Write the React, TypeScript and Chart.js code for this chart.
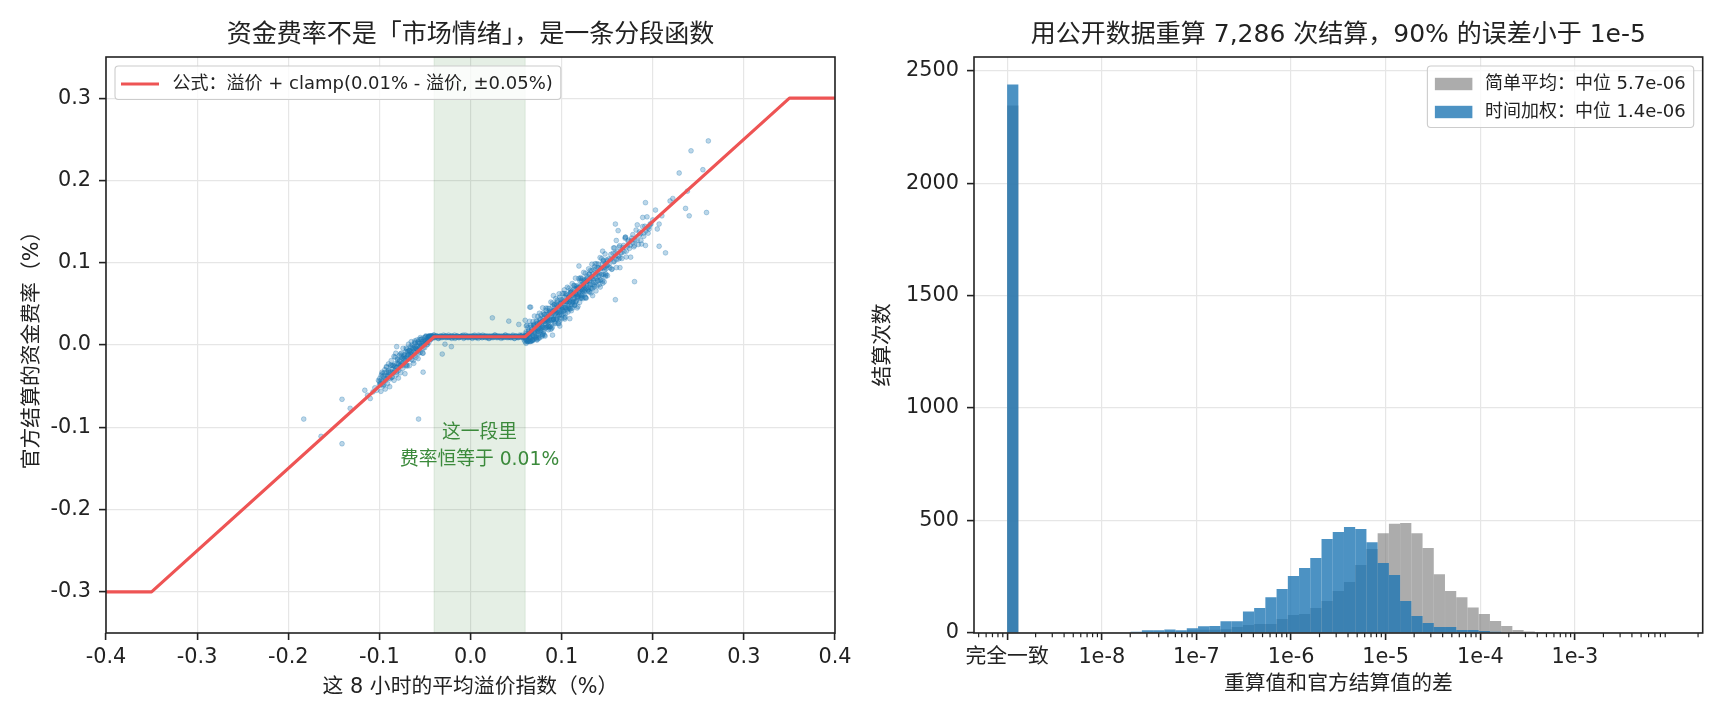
import React, { useEffect, useRef } from "react";
import { Chart, registerables } from "chart.js";

Chart.register(...registerables);

const FONT = '"DejaVu Sans", "Noto Sans CJK SC", sans-serif';
const INK = "#222222";
const GRID = "#e6e6e6";

// ---------------- left panel data ----------------
const leftTitle = "资金费率不是「市场情绪」，是一条分段函数";
const leftXLabel = "这 8 小时的平均溢价指数（%）";
const leftYLabel = "官方结算的资金费率（%）";
const leftXTicks = [-0.4, -0.3, -0.2, -0.1, 0, 0.1, 0.2, 0.3, 0.4];
const leftXTickLabels = ["-0.4", "-0.3", "-0.2", "-0.1", "0.0", "0.1", "0.2", "0.3", "0.4"];
const leftYTicks = [-0.3, -0.2, -0.1, 0, 0.1, 0.2, 0.3];
const leftYTickLabels = ["-0.3", "-0.2", "-0.1", "0.0", "0.1", "0.2", "0.3"];
const formulaPremium = [-0.4, -0.35, -0.04, 0.06, 0.35, 0.4];
const formulaRate = [-0.3, -0.3, 0.01, 0.01, 0.3, 0.3];
const formulaLabel = "公式：溢价 + clamp(0.01% - 溢价, ±0.05%)";
const flatBand = [-0.04, 0.06];
const flatNote = ["这一段里", "费率恒等于 0.01%"];

const negSlopePoints = [
  [-0.105,-0.052],[-0.103,-0.055],[-0.101,-0.043],[-0.100,-0.049],[-0.098,-0.043],[-0.097,-0.035],[-0.095,-0.048],[-0.094,-0.037],
  [-0.093,-0.041],[-0.092,-0.027],[-0.091,-0.037],[-0.090,-0.031],[-0.089,-0.040],[-0.088,-0.032],[-0.087,-0.019],[-0.086,-0.033],
  [-0.085,-0.025],[-0.084,-0.033],[-0.083,-0.026],[-0.082,-0.010],[-0.081,-0.027],[-0.081,-0.002],[-0.080,-0.018],[-0.079,-0.031],
  [-0.078,-0.020],[-0.077,-0.011],[-0.076,-0.023],[-0.075,-0.016],[-0.074,-0.004],[-0.073,-0.022],[-0.072,-0.016],[-0.071,-0.008],
  [-0.070,-0.024],[-0.069,-0.014],[-0.068,0.001],[-0.067,-0.007],[-0.066,-0.014],[-0.065,-0.008],[-0.064,0.000],[-0.063,-0.019],
  [-0.062,-0.008],[-0.061,-0.002],[-0.060,-0.009],[-0.059,0.006],[-0.058,-0.002],[-0.057,-0.010],[-0.056,0.002],[-0.055,-0.002],
  [-0.054,0.007],[-0.053,0.002],[-0.052,-0.010],[-0.051,0.006],[-0.050,0.002],[-0.049,0.010],[-0.048,0.006],[-0.047,0.001],
  [-0.046,0.010],[-0.045,0.008],[-0.044,0.011],[-0.043,0.008],[-0.042,0.011],[-0.041,0.009],
  [-0.099,-0.047],[-0.096,-0.044],[-0.090,-0.038],[-0.086,-0.039],[-0.083,-0.031],[-0.080,-0.027],[-0.077,-0.025],[-0.075,-0.022],
  [-0.073,-0.017],[-0.070,-0.015],[-0.068,-0.012],[-0.066,-0.009],[-0.064,-0.010],[-0.062,-0.005],[-0.060,-0.004],[-0.058,-0.006],
  [-0.056,-0.004],[-0.054,-0.001],[-0.052,0.000],[-0.050,0.004],[-0.048,0.003],[-0.046,0.006],[-0.044,0.007],[-0.057,0.004],
  [-0.061,0.003],[-0.065,-0.003],[-0.069,-0.008],[-0.072,-0.012],
  [-0.100,-0.044],[-0.099,-0.047],[-0.098,-0.037],[-0.097,-0.048],[-0.096,-0.038],[-0.095,-0.041],[-0.094,-0.030],[-0.093,-0.043],
  [-0.092,-0.033],[-0.091,-0.038],[-0.090,-0.023],[-0.089,-0.034],[-0.088,-0.041],[-0.087,-0.025],[-0.086,-0.029],[-0.085,-0.034],
  [-0.084,-0.014],[-0.083,-0.023],[-0.082,-0.028],[-0.081,-0.033],[-0.080,-0.017],[-0.079,-0.023],[-0.078,-0.019],[-0.077,-0.025],
  [-0.076,-0.010],[-0.075,-0.025],[-0.074,-0.016],[-0.073,-0.012],[-0.072,-0.019],[-0.071,-0.025],[-0.070,-0.005],[-0.069,-0.012],
  [-0.068,-0.017],[-0.067,-0.007],[-0.066,-0.011],[-0.065,0.004],[-0.064,-0.012],[-0.063,-0.004],[-0.062,-0.013],[-0.061,0.002],
  [-0.060,-0.004],[-0.059,-0.005],[-0.058,0.003],[-0.057,-0.007],[-0.056,0.002],[-0.055,0.009],[-0.054,-0.001],[-0.053,0.004],
  [-0.052,-0.004],[-0.051,0.009],[-0.050,0.005],[-0.049,0.011],[-0.048,0.003],[-0.047,0.009],[-0.046,0.011],[-0.045,0.008],
  [-0.044,0.010],[-0.043,0.009],[-0.042,0.010],[-0.041,0.010],
  [-0.0995,-0.0405],[-0.0983,-0.0563],[-0.0971,-0.0331],[-0.0959,-0.0499],[-0.0947,-0.0337],[-0.0935,-0.0535],[-0.0923,-0.0263],[-0.0911,-0.0471],
  [-0.0899,-0.0329],[-0.0887,-0.0507],[-0.0875,-0.0245],[-0.0863,-0.0393],[-0.0851,-0.0251],[-0.0839,-0.0429],[-0.0827,-0.0147],[-0.0815,-0.0365],
  [-0.0803,-0.0223],[-0.0791,-0.0401],[-0.0779,-0.0129],[-0.0767,-0.0337],[-0.0755,-0.0135],[-0.0743,-0.0283],[-0.0731,-0.0141],[-0.0719,-0.0349],
  [-0.0707,-0.0037],[-0.0695,-0.0255],[-0.0683,-0.0073],[-0.0671,-0.0251],[-0.0659,-0.0019],[-0.0647,-0.0177],[-0.0635,-0.0035],[-0.0623,-0.0223],
  [-0.0611,0.0049],[-0.0599,-0.0149],[-0.0587,-0.0007],[-0.0575,-0.0165],[-0.0563,0.0067],[-0.0551,-0.0091],[-0.0539,0.0071],[-0.0527,-0.0097],
  [-0.0515,0.0045],[-0.0503,-0.0033],[-0.0491,0.0099],[-0.0479,0.0001],[-0.0467,0.0083],[-0.0455,0.0035],[-0.0443,0.0097],[-0.0431,0.0069],
];

const flatPoints = [
  [-0.046,0.010],[-0.045,0.009],[-0.044,0.010],[-0.043,0.011],[-0.042,0.010],[-0.041,0.010],[-0.040,0.012],[-0.039,0.009],
  [-0.038,0.010],[-0.037,0.011],[-0.036,0.010],[-0.035,0.008],[-0.034,0.010],[-0.033,0.010],[-0.032,0.011],[-0.031,0.009],
  [-0.030,0.010],[-0.029,0.010],[-0.028,0.011],[-0.027,0.010],[-0.026,0.009],[-0.025,0.010],[-0.024,0.012],[-0.023,0.010],
  [-0.022,0.010],[-0.021,0.009],[-0.020,0.011],[-0.019,0.010],[-0.018,0.010],[-0.017,0.008],[-0.016,0.010],[-0.015,0.011],
  [-0.014,0.010],[-0.013,0.009],[-0.012,0.010],[-0.011,0.010],[-0.010,0.011],[-0.009,0.010],[-0.008,0.012],[-0.007,0.009],
  [-0.006,0.010],[-0.005,0.010],[-0.004,0.011],[-0.003,0.010],[-0.002,0.009],[-0.001,0.010],[0.000,0.010],[0.001,0.011],
  [0.002,0.008],[0.003,0.010],[0.004,0.010],[0.005,0.011],[0.006,0.010],[0.007,0.009],[0.008,0.010],[0.009,0.012],
  [0.010,0.010],[0.011,0.010],[0.012,0.011],[0.013,0.009],[0.014,0.010],[0.015,0.010],[0.016,0.010],[0.017,0.011],
  [0.018,0.009],[0.019,0.010],[0.020,0.008],[0.021,0.010],[0.022,0.011],[0.023,0.010],[0.024,0.010],[0.025,0.009],
  [0.026,0.010],[0.027,0.012],[0.028,0.010],[0.029,0.011],[0.030,0.009],[0.031,0.010],[0.032,0.010],[0.033,0.011],
  [0.034,0.010],[0.035,0.009],[0.036,0.010],[0.037,0.010],[0.038,0.012],[0.039,0.010],[0.040,0.009],[0.041,0.011],
  [0.042,0.010],[0.043,0.010],[0.044,0.009],[0.045,0.010],[0.046,0.011],[0.047,0.010],[0.048,0.008],[0.049,0.010],
  [0.050,0.011],[0.051,0.010],[0.052,0.009],[0.053,0.010],[0.054,0.012],[0.055,0.010],[0.056,0.011],[0.057,0.009],
  [0.058,0.010],[0.059,0.010],[0.060,0.011],[0.061,0.010],[0.062,0.009],
  [-0.0455,0.010],[-0.0445,0.011],[-0.0435,0.009],[-0.0425,0.010],[-0.0415,0.010],[-0.0405,0.012],[-0.0395,0.009],[-0.0385,0.010],
  [-0.0375,0.011],[-0.0365,0.010],[-0.0355,0.008],[-0.0345,0.010],[-0.0335,0.011],[-0.0325,0.009],[-0.0315,0.010],[-0.0305,0.010],
  [-0.0295,0.012],[-0.0285,0.010],[-0.0275,0.009],[-0.0265,0.011],[-0.0255,0.010],[-0.0245,0.010],[-0.0235,0.009],[-0.0225,0.010],
  [-0.0215,0.011],[-0.0205,0.008],[-0.0195,0.010],[-0.0185,0.010],[-0.0175,0.012],[-0.0165,0.009],[-0.0155,0.010],[-0.0145,0.011],
  [-0.0135,0.010],[-0.0125,0.009],[-0.0115,0.010],[-0.0105,0.010],[-0.0095,0.011],[-0.0085,0.010],[-0.0075,0.008],[-0.0065,0.010],
  [-0.0055,0.012],[-0.0045,0.010],[-0.0035,0.009],[-0.0025,0.010],[-0.0015,0.011],[-0.0005,0.010],[0.0005,0.010],[0.0015,0.009],
  [0.0025,0.011],[0.0035,0.010],[0.0045,0.012],[0.0055,0.009],[0.0065,0.010],[0.0075,0.010],[0.0085,0.008],[0.0095,0.011],
  [0.0105,0.010],[0.0115,0.010],[0.0125,0.009],[0.0135,0.012],[0.0145,0.010],[0.0155,0.011],[0.0165,0.009],[0.0175,0.010],
  [0.0185,0.010],[0.0195,0.011],[0.0205,0.008],[0.0215,0.010],[0.0225,0.010],[0.0235,0.009],[0.0245,0.011],[0.0255,0.010],
  [0.0265,0.012],[0.0275,0.010],[0.0285,0.009],[0.0295,0.010],[0.0305,0.011],[0.0315,0.010],[0.0325,0.010],[0.0335,0.008],
  [0.0345,0.010],[0.0355,0.011],[0.0365,0.009],[0.0375,0.010],[0.0385,0.012],[0.0395,0.010],[0.0405,0.010],[0.0415,0.009],
  [0.0425,0.011],[0.0435,0.010],[0.0445,0.009],[0.0455,0.010],[0.0465,0.012],[0.0475,0.010],[0.0485,0.008],[0.0495,0.011],
  [0.0505,0.010],[0.0515,0.010],[0.0525,0.009],[0.0535,0.010],[0.0545,0.011],[0.0555,0.010],[0.0565,0.012],[0.0575,0.009],
  [0.0585,0.010],[0.0595,0.010],[0.0605,0.011],[0.0615,0.009],[0.0625,0.010],
];

const posSlopePoints = [
  [0.058,0.010],[0.059,0.006],[0.060,0.004],[0.061,0.016],[0.062,0.011],[0.063,0.005],[0.064,0.014],[0.065,0.009],
  [0.066,0.024],[0.067,0.014],[0.068,0.006],[0.069,0.011],[0.070,0.023],[0.071,0.010],[0.072,0.020],[0.073,0.029],
  [0.074,0.017],[0.075,0.011],[0.076,0.027],[0.077,0.022],[0.078,0.018],[0.079,0.033],[0.080,0.029],[0.081,0.012],
  [0.082,0.026],[0.083,0.042],[0.084,0.031],[0.085,0.023],[0.086,0.028],[0.087,0.039],[0.088,0.023],[0.089,0.035],
  [0.090,0.047],[0.091,0.032],[0.092,0.042],[0.093,0.026],[0.094,0.039],[0.095,0.048],[0.096,0.035],[0.097,0.040],
  [0.098,0.058],[0.099,0.047],[0.100,0.036],[0.101,0.045],[0.102,0.053],[0.103,0.033],[0.104,0.045],[0.105,0.060],
  [0.106,0.053],[0.107,0.045],[0.108,0.058],[0.109,0.052],[0.110,0.044],[0.111,0.065],[0.112,0.052],[0.113,0.062],
  [0.114,0.072],[0.115,0.052],[0.116,0.061],[0.117,0.045],[0.118,0.070],[0.119,0.061],[0.120,0.067],[0.121,0.082],
  [0.122,0.057],[0.123,0.067],[0.124,0.074],[0.125,0.065],[0.126,0.058],[0.127,0.080],[0.128,0.074],[0.129,0.067],
  [0.130,0.086],[0.131,0.073],[0.132,0.081],[0.133,0.069],[0.134,0.060],[0.135,0.080],[0.136,0.095],[0.137,0.076],
  [0.138,0.086],[0.139,0.072],[0.140,0.094],[0.141,0.084],[0.142,0.079],[0.143,0.093],[0.144,0.085],[0.145,0.075],
  [0.146,0.103],[0.147,0.094],[0.148,0.083],[0.149,0.093],[0.150,0.102],
  [0.061,0.002],[0.062,0.024],[0.064,0.006],[0.065,0.004],[0.067,0.016],[0.068,0.005],[0.070,0.025],[0.071,0.017],
  [0.073,0.006],[0.074,0.014],[0.076,0.027],[0.077,0.020],[0.079,0.013],[0.080,0.039],[0.082,0.030],[0.083,0.021],
  [0.085,0.029],[0.086,0.039],[0.088,0.019],[0.089,0.030],[0.091,0.041],[0.092,0.028],[0.094,0.050],[0.095,0.040],
  [0.097,0.026],[0.098,0.037],[0.100,0.052],[0.101,0.043],[0.103,0.067],[0.104,0.038],[0.106,0.053],[0.107,0.047],
  [0.109,0.032],[0.110,0.064],[0.112,0.049],[0.113,0.056],[0.115,0.063],[0.116,0.071],[0.118,0.059],[0.119,0.065],
  [0.121,0.072],[0.122,0.060],[0.124,0.068],[0.125,0.078],[0.127,0.069],[0.128,0.078],[0.130,0.065],[0.131,0.078],
  [0.133,0.090],[0.134,0.074],
  [0.0600,0.0080],[0.0608,0.0138],[0.0616,0.0056],[0.0624,0.0124],[0.0632,0.0042],[0.0640,0.0180],[0.0648,0.0108],[0.0656,0.0146],
  [0.0664,0.0044],[0.0672,0.0192],[0.0680,0.0110],[0.0688,0.0238],[0.0696,0.0166],[0.0704,0.0104],[0.0712,0.0222],[0.0720,0.0170],
  [0.0728,0.0088],[0.0736,0.0266],[0.0744,0.0164],[0.0752,0.0232],[0.0760,0.0320],[0.0768,0.0158],[0.0776,0.0236],[0.0784,0.0284],
  [0.0792,0.0222],[0.0800,0.0140],[0.0808,0.0328],[0.0816,0.0286],[0.0824,0.0234],[0.0832,0.0372],[0.0840,0.0280],[0.0848,0.0338],
  [0.0856,0.0226],[0.0864,0.0414],[0.0872,0.0292],[0.0880,0.0380],[0.0888,0.0348],[0.0896,0.0216],[0.0904,0.0414],[0.0912,0.0312],
  [0.0920,0.0450],[0.0928,0.0378],[0.0936,0.0416],[0.0944,0.0324],[0.0952,0.0522],[0.0960,0.0390],[0.0968,0.0458],[0.0976,0.0326],
  [0.0984,0.0504],[0.0992,0.0402],[0.1000,0.0470],[0.1008,0.0548],[0.1016,0.0456],[0.1024,0.0414],[0.1032,0.0532],[0.1040,0.0340],
  [0.1048,0.0508],[0.1056,0.0616],[0.1064,0.0484],[0.1072,0.0552],[0.1080,0.0450],[0.1088,0.0598],[0.1096,0.0546],[0.1104,0.0634],
  [0.1112,0.0512],[0.1120,0.0450],[0.1128,0.0618],[0.1136,0.0686],[0.1144,0.0574],[0.1152,0.0622],[0.1160,0.0540],[0.1168,0.0688],
  [0.1176,0.0586],[0.1184,0.0684],[0.1192,0.0632],[0.1200,0.0780],[0.1208,0.0568],[0.1216,0.0676],[0.1224,0.0734],[0.1232,0.0622],
  [0.1240,0.0720],[0.1248,0.0788],[0.1256,0.0676],[0.1264,0.0574],[0.1272,0.0722],[0.1280,0.0810],[0.1288,0.0778],[0.1296,0.0696],
  [0.1304,0.0864],[0.1312,0.0752],[0.1320,0.0690],[0.1328,0.0828],[0.1336,0.0806],[0.1344,0.0864],[0.1352,0.0762],[0.1360,0.0710],
  [0.1368,0.0828],[0.1376,0.0926],[0.1384,0.0814],[0.1392,0.0882],[0.1400,0.0780],[0.1408,0.0938],[0.1416,0.0866],[0.1424,0.0704],
  [0.1432,0.0932],[0.1440,0.0860],[0.1448,0.0988],[0.1456,0.0936],[0.1464,0.0854],[0.1472,0.0912],[0.1480,0.0990],[0.1488,0.0848],
  [0.1496,0.0966],
  [0.0604,0.0114],[0.0615,0.0065],[0.0626,0.0050],[0.0637,0.0167],[0.0648,0.0118],[0.0659,0.0079],[0.0670,0.0170],[0.0681,0.0060],
  [0.0692,0.0242],[0.0703,0.0143],[0.0714,0.0194],[0.0725,0.0115],[0.0736,0.0256],[0.0747,0.0207],[0.0758,0.0088],[0.0769,0.0309],
  [0.0780,0.0210],[0.0791,0.0281],[0.0802,0.0212],[0.0813,0.0373],[0.0824,0.0204],[0.0835,0.0305],[0.0846,0.0346],[0.0857,0.0297],
  [0.0868,0.0218],[0.0879,0.0409],[0.0890,0.0310],[0.0901,0.0381],[0.0912,0.0312],[0.0923,0.0493],[0.0934,0.0384],[0.0945,0.0315],
  [0.0956,0.0466],[0.0967,0.0427],[0.0978,0.0288],[0.0989,0.0509],[0.1000,0.0430],[0.1011,0.0501],[0.1022,0.0412],[0.1033,0.0583],
  [0.1044,0.0454],[0.1055,0.0525],[0.1066,0.0426],[0.1077,0.0577],[0.1088,0.0528],[0.1099,0.0639],[0.1110,0.0490],[0.1121,0.0601],
  [0.1132,0.0552],[0.1143,0.0483],[0.1154,0.0684],[0.1165,0.0615],[0.1176,0.0576],[0.1187,0.0697],[0.1198,0.0658],[0.1209,0.0579],
  [0.1220,0.0780],[0.1231,0.0661],[0.1242,0.0722],[0.1253,0.0663],[0.1264,0.0764],
  [0.0612,0.0232],[0.0621,0.0040],[0.0630,0.0210],[0.0639,0.0050],[0.0648,0.0288],[0.0657,0.0047],[0.0666,0.0216],[0.0675,0.0060],
  [0.0684,0.0284],[0.0693,0.0070],[0.0702,0.0352],[0.0711,0.0081],[0.0720,0.0290],[0.0729,0.0069],[0.0738,0.0348],[0.0747,0.0080],
  [0.0756,0.0386],[0.0765,0.0175],[0.0774,0.0364],[0.0783,0.0103],[0.0792,0.0452],[0.0801,0.0161],[0.0810,0.0370],[0.0819,0.0109],
  [0.0828,0.0448],[0.0837,0.0217],[0.0846,0.0446],[0.0855,0.0185],[0.0864,0.0444],[0.0873,0.0223],[0.0882,0.0522],[0.0891,0.0201],
  [0.0900,0.0510],[0.0909,0.0309],[0.0918,0.0488],[0.0927,0.0267],[0.0936,0.0566],[0.0945,0.0315],[0.0954,0.0544],[0.0963,0.0263],
  [0.0972,0.0622],[0.0981,0.0371],[0.0990,0.0550],[0.0999,0.0319],[0.1008,0.0628],[0.1017,0.0377],[0.1026,0.0626],[0.1035,0.0315],
  [0.1044,0.0624],[0.1053,0.0433],[0.1062,0.0702],[0.1071,0.0401],[0.1080,0.0690],[0.1089,0.0439],[0.1098,0.0668],[0.1107,0.0417],
  [0.1116,0.0746],[0.1125,0.0525],[0.1134,0.0724],[0.1143,0.0483],[0.1152,0.0812],[0.1161,0.0531],[0.1170,0.0720],[0.1179,0.0469],
  [0.1188,0.0808],[0.1197,0.0517],[0.1206,0.0806],[0.1215,0.0605],[0.1224,0.0804],[0.1233,0.0563],[0.1242,0.0882],[0.1251,0.0611],
  [0.1260,0.0870],[0.1269,0.0569],[0.1278,0.0838],[0.1287,0.0667],[0.1296,0.0926],[0.1305,0.0645],[0.1314,0.0904],[0.1323,0.0633],
  [0.1332,0.0982],[0.1341,0.0691],[0.1350,0.0920],[0.1359,0.0729],[0.1368,0.0988],[0.1377,0.0657],[0.1386,0.0986],[0.1395,0.0785],
  [0.1404,0.0984],[0.1413,0.0733],[0.1422,0.1062],[0.1431,0.0791],[0.1440,0.1050],[0.1449,0.0779],[0.1458,0.1018],[0.1467,0.0767],
  [0.1476,0.1106],[0.1485,0.0865],[0.1494,0.1034],[0.1503,0.0843],
];

const upperTailPoints = [
  [0.152,0.098],[0.154,0.110],[0.155,0.092],[0.157,0.101],[0.158,0.118],[0.159,0.112],[0.160,0.104],[0.162,0.108],
  [0.163,0.119],[0.164,0.106],[0.166,0.112],[0.168,0.121],[0.170,0.131],[0.171,0.114],[0.173,0.126],[0.175,0.121],
  [0.177,0.130],[0.178,0.124],[0.180,0.121],[0.183,0.146],[0.185,0.133],[0.187,0.127],[0.189,0.155],[0.190,0.136],
  [0.192,0.173],[0.192,0.121],[0.194,0.142],[0.196,0.141],[0.198,0.147],[0.200,0.152],[0.203,0.164],[0.205,0.141],
  [0.207,0.147],[0.207,0.120],[0.210,0.157],[0.214,0.112],[0.219,0.175],[0.222,0.178],[0.229,0.209],[0.236,0.166],
  [0.238,0.187],[0.240,0.157],[0.242,0.236],[0.255,0.213],[0.259,0.161],[0.261,0.248],[0.145,0.114],[0.157,0.118],
  [0.160,0.127],[0.162,0.139],[0.159,0.147],[0.170,0.131],
  [0.1505,0.0965],[0.1517,0.1047],[0.1529,0.0939],[0.1541,0.1041],[0.1553,0.0923],[0.1565,0.1115],[0.1577,0.1017],[0.1589,0.1079],
  [0.1601,0.0941],[0.1613,0.1133],[0.1625,0.1045],[0.1637,0.1207],[0.1649,0.1119],[0.1661,0.1051],[0.1673,0.1183],[0.1685,0.1135],
  [0.1697,0.1297],[0.1709,0.1069],[0.1721,0.1201],[0.1733,0.1273],[0.1745,0.1175],[0.1757,0.1067],[0.1769,0.1269],[0.1781,0.1341],
  [0.1793,0.1193],[0.1805,0.1275],[0.1817,0.1397],[0.1829,0.1269],[0.1841,0.1221],[0.1853,0.1373],[0.1865,0.1355],[0.1877,0.1227],
  [0.1889,0.1439],[0.1901,0.1321],[0.1913,0.1443],[0.1925,0.1385],[0.1937,0.1557],[0.1949,0.1359],[0.1961,0.1441],[0.1973,0.1473],
];

const outlierPoints = [
  [-0.183,-0.090],[-0.141,-0.066],[-0.141,-0.120],[-0.132,-0.077],[-0.164,-0.111],[-0.116,-0.055],[-0.110,-0.065],
  [-0.107,-0.057],[-0.113,-0.061],[-0.057,-0.090],[-0.052,-0.033],[-0.031,-0.011],[-0.021,-0.002],[-0.028,0.001],
  [0.024,0.033],[0.042,0.029],[0.053,0.025],[0.060,0.030],[0.065,0.046],[0.066,0.046],[0.091,0.060],[0.098,0.023],
  [0.090,0.012],[0.079,0.012],[0.119,0.096],[0.159,0.055],[0.180,0.077],[0.164,0.094],
];

// ---------------- right panel data ----------------
const rightTitle = "用公开数据重算 7,286 次结算，90% 的误差小于 1e-5";
const rightXLabel = "重算值和官方结算值的差";
const rightYLabel = "结算次数";
const rightXTicks = [-9, -8, -7, -6, -5, -4, -3];
const rightXTickLabels = ["完全一致", "1e-8", "1e-7", "1e-6", "1e-5", "1e-4", "1e-3"];
const rightYTicks = [0, 500, 1000, 1500, 2000, 2500];
const rightYTickLabels = ["0", "500", "1000", "1500", "2000", "2500"];
// bin edges as log10 of the difference (the first bin holds the exact matches)
const binEdgesExp = [
  -9.000, -8.881, -8.763, -8.644, -8.525, -8.407, -8.288, -8.169, -8.051, -7.932,
  -7.814, -7.695, -7.576, -7.458, -7.339, -7.220, -7.102, -6.983, -6.864, -6.746,
  -6.627, -6.508, -6.390, -6.271, -6.153, -6.034, -5.915, -5.797, -5.678, -5.559,
  -5.441, -5.322, -5.203, -5.085, -4.966, -4.847, -4.729, -4.610, -4.492, -4.373,
  -4.254, -4.136, -4.017, -3.898, -3.780, -3.661, -3.542, -3.424, -3.305, -3.186,
  -3.068, -2.949, -2.831, -2.712, -2.593, -2.475, -2.356, -2.237, -2.119, -2.000,
];
const simpleAvgCounts = [
  2345, 0, 0, 0, 0, 0, 0, 0, 0, 0,
  0, 3, 4, 5, 7, 6, 12, 15, 15, 17,
  27, 36, 40, 40, 62, 80, 84, 111, 142, 187,
  227, 302, 373, 444, 486, 489, 444, 378, 261, 187,
  159, 113, 84, 53, 31, 13, 7, 3, 1, 0,
  0, 0, 0, 0, 0, 0, 0, 0, 0,
];
const timeWeightedCounts = [
  2439, 0, 0, 0, 0, 0, 0, 0, 0, 0,
  0, 6, 12, 12, 16, 12, 21, 30, 31, 52,
  52, 96, 111, 159, 196, 253, 289, 333, 418, 449,
  471, 462, 404, 311, 258, 142, 76, 44, 27, 27,
  13, 13, 9, 6, 2, 0, 0, 0, 0, 0,
  0, 0, 0, 0, 0, 0, 0, 0, 0,
];
const simpleAvgLabel = "简单平均：中位 5.7e-06";
const timeWeightedLabel = "时间加权：中位 1.4e-06";

// ---------------- colours ----------------
const RED = "#ee5454";
const BLUE_PT = "rgba(31,119,180,0.3)";
const BLUE_BAR = "rgba(31,119,180,0.8)";
const GRAY_BAR = "rgba(128,128,128,0.65)";
const SHADE = "rgba(0,100,0,0.1)";
const NOTE_GREEN = "#3b8a3b";

// ---------------- helpers / plugins ----------------
const tickFont = { family: FONT, size: 20.8 };
const labelFont = { family: FONT, size: 20.8 };

function framePlugin(title: string, legendItems: any[], corner: "left" | "right") {
  return {
    id: "frame",
    afterDraw(chart: any) {
      const { ctx, chartArea: a } = chart;
      ctx.save();
      ctx.strokeStyle = INK;
      ctx.lineWidth = 1.6;
      ctx.strokeRect(a.left, a.top, a.right - a.left, a.bottom - a.top);
      ctx.font = `25px ${FONT}`;
      ctx.fillStyle = INK;
      ctx.textAlign = "center";
      ctx.textBaseline = "middle";
      ctx.fillText(title, (a.left + a.right) / 2, a.top - 21.5);
      ctx.font = `18px ${FONT}`;
      const textW = Math.max(...legendItems.map((it) => ctx.measureText(it.text).width));
      const w = 57.5 + textW + 8;
      const h = 18 + (legendItems.length - 1) * 28 + 15.5;
      const x = corner === "left" ? a.left + 9 : a.right - 9 - w;
      const y = a.top + 9;
      ctx.beginPath();
      ctx.roundRect(x, y, w, h, 3.5);
      ctx.fillStyle = "rgba(255,255,255,0.8)";
      ctx.fill();
      ctx.strokeStyle = "#cccccc";
      ctx.lineWidth = 1.1;
      ctx.stroke();
      legendItems.forEach((it, i) => {
        const cy = y + 18 + i * 28;
        if (it.kind === "line") {
          ctx.strokeStyle = it.color;
          ctx.lineWidth = 3;
          ctx.beginPath();
          ctx.moveTo(x + 6, cy);
          ctx.lineTo(x + 44, cy);
          ctx.stroke();
        } else {
          ctx.fillStyle = it.color;
          ctx.fillRect(x + 7.5, cy - 6.2, 37.5, 12.4);
        }
        ctx.fillStyle = INK;
        ctx.textAlign = "left";
        ctx.textBaseline = "middle";
        ctx.fillText(it.text, x + 57.5, cy);
      });
      ctx.restore();
    },
  };
}

const shadePlugin = {
  id: "shade",
  beforeDatasetsDraw(chart: any) {
    const { ctx, chartArea: a, scales } = chart;
    const x0 = scales.x.getPixelForValue(flatBand[0]);
    const x1 = scales.x.getPixelForValue(flatBand[1]);
    ctx.save();
    ctx.fillStyle = SHADE;
    ctx.fillRect(x0, a.top, x1 - x0, a.bottom - a.top);
    ctx.strokeStyle = SHADE;
    ctx.lineWidth = 1;
    ctx.beginPath();
    ctx.moveTo(x0, a.top);
    ctx.lineTo(x0, a.bottom);
    ctx.moveTo(x1, a.top);
    ctx.lineTo(x1, a.bottom);
    ctx.stroke();
    ctx.restore();
  },
};

const notePlugin = {
  id: "note",
  afterDatasetsDraw(chart: any) {
    const { ctx, scales } = chart;
    const cx = scales.x.getPixelForValue(0.01);
    const cy = scales.y.getPixelForValue(-0.1236);
    ctx.save();
    ctx.font = `18.75px ${FONT}`;
    ctx.fillStyle = NOTE_GREEN;
    ctx.textAlign = "center";
    ctx.textBaseline = "middle";
    ctx.fillText(flatNote[0], cx, cy - 13.3);
    ctx.fillText(flatNote[1], cx, cy + 13.3);
    ctx.restore();
  },
};

const minorTickPlugin = {
  id: "minorTicks",
  afterDraw(chart: any) {
    const { ctx, chartArea: a, scales } = chart;
    const s = scales.x;
    ctx.save();
    ctx.strokeStyle = INK;
    ctx.lineWidth = 1.2;
    for (let k = -10; k <= -2; k++) {
      for (let m = 2; m <= 9; m++) {
        const v = k + Math.log10(m);
        if (v < s.min || v > s.max) continue;
        const px = s.getPixelForValue(v);
        ctx.beginPath();
        ctx.moveTo(px, a.bottom);
        ctx.lineTo(px, a.bottom + 4.2);
        ctx.stroke();
      }
    }
    ctx.restore();
  },
};

function axis(opts: any) {
  const { ticks, labels, min, max, size, horizontal, title, titlePad } = opts;
  return {
    type: "linear",
    min,
    max,
    offset: false,
    afterFit(scale: any) {
      if (horizontal) scale.height = size;
      else scale.width = size;
    },
    afterBuildTicks(scale: any) {
      scale.ticks = ticks.map((v: number) => ({ value: v }));
    },
    ticks: {
      autoSkip: false,
      maxRotation: 0,
      minRotation: 0,
      padding: horizontal ? 5.5 : 8,
      font: tickFont,
      color: INK,
      callback: (_v: any, i: number) => labels[i],
    },
    grid: {
      offset: false,
      color: GRID,
      lineWidth: 1.2,
      tickLength: 7,
      tickColor: INK,
      tickWidth: 1.6,
    },
    border: { display: false },
    title: {
      display: true,
      text: title,
      font: labelFont,
      color: INK,
      padding: horizontal ? { top: 0, bottom: titlePad } : { top: titlePad, bottom: 0 },
    },
  };
}

function leftConfig(): any {
  const scatter = [...negSlopePoints, ...flatPoints, ...posSlopePoints, ...upperTailPoints, ...outlierPoints].map(
    ([x, y]) => ({ x, y })
  );
  const formula = formulaPremium.map((x, i) => ({ x, y: formulaRate[i] }));
  return {
    type: "scatter",
    data: {
      datasets: [
        {
          type: "line",
          label: formulaLabel,
          data: formula,
          borderColor: RED,
          borderWidth: 3.2,
          pointRadius: 0,
          fill: false,
          tension: 0,
          borderJoinStyle: "round",
        },
        {
          type: "scatter",
          label: "points",
          data: scatter,
          pointRadius: 2.4,
          pointBorderWidth: 1,
          pointBackgroundColor: BLUE_PT,
          pointBorderColor: BLUE_PT,
          backgroundColor: BLUE_PT,
          borderColor: BLUE_PT,
        },
      ],
    },
    options: {
      responsive: false,
      animation: false,
      events: [],
      layout: { padding: { top: 57, right: 27, bottom: 0, left: 0 } },
      plugins: { legend: { display: false }, tooltip: { enabled: false }, title: { display: false } },
      scales: {
        x: axis({ ticks: leftXTicks, labels: leftXTickLabels, min: -0.4, max: 0.4, size: 87, horizontal: true, title: leftXLabel, titlePad: 19.5 }),
        y: { ...axis({ ticks: leftYTicks, labels: leftYTickLabels, min: -0.35, max: 0.35, size: 106, horizontal: false, title: leftYLabel, titlePad: 20.5 }), position: "left" },
      },
    },
    plugins: [shadePlugin, notePlugin, framePlugin(leftTitle, [{ kind: "line", color: RED, text: formulaLabel }], "left")],
  };
}

function rightConfig(): any {
  const centers = binEdgesExp.slice(0, -1).map((e, i) => (e + binEdgesExp[i + 1]) / 2);
  return {
    type: "bar",
    data: {
      datasets: [
        {
          label: timeWeightedLabel,
          data: centers.map((x, i) => ({ x, y: timeWeightedCounts[i] })),
          backgroundColor: BLUE_BAR,
        },
        {
          label: simpleAvgLabel,
          data: centers.map((x, i) => ({ x, y: simpleAvgCounts[i] })),
          backgroundColor: GRAY_BAR,
        },
      ],
    },
    options: {
      responsive: false,
      animation: false,
      events: [],
      datasets: {
        bar: { grouped: false, barPercentage: 1, categoryPercentage: 1, borderWidth: 0, inflateAmount: 0 },
      },
      layout: { padding: { top: 57, right: 22.3, bottom: 0, left: 0 } },
      plugins: { legend: { display: false }, tooltip: { enabled: false }, title: { display: false } },
      scales: {
        x: axis({ ticks: rightXTicks, labels: rightXTickLabels, min: -9.35, max: -1.65, size: 87, horizontal: true, title: rightXLabel, titlePad: 22.8 }),
        y: { ...axis({ ticks: rightYTicks, labels: rightYTickLabels, min: 0, max: 2561, size: 112, horizontal: false, title: rightYLabel, titlePad: 8.8 }), position: "left" },
      },
    },
    plugins: [
      minorTickPlugin,
      framePlugin(rightTitle, [
        { kind: "patch", color: GRAY_BAR, text: simpleAvgLabel },
        { kind: "patch", color: BLUE_BAR, text: timeWeightedLabel },
      ], "right"),
    ],
  };
}

function ChartCanvas({ make, left, width }: { make: () => any; left: number; width: number }) {
  const ref = useRef<HTMLCanvasElement>(null);
  useEffect(() => {
    const chart = new Chart(ref.current as HTMLCanvasElement, make());
    return () => chart.destroy();
  }, []);
  return (
    <canvas
      ref={ref}
      width={width}
      height={720}
      style={{ position: "absolute", left, top: 0, width, height: 720 }}
    />
  );
}

export default function App() {
  return (
    <div
      style={{
        position: "absolute",
        left: 0,
        top: 0,
        width: 1725,
        height: 720,
        background: "#ffffff",
        overflow: "hidden",
      }}
    >
      <ChartCanvas make={leftConfig} left={0} width={862} />
      <ChartCanvas make={rightConfig} left={862} width={863} />
    </div>
  );
}
